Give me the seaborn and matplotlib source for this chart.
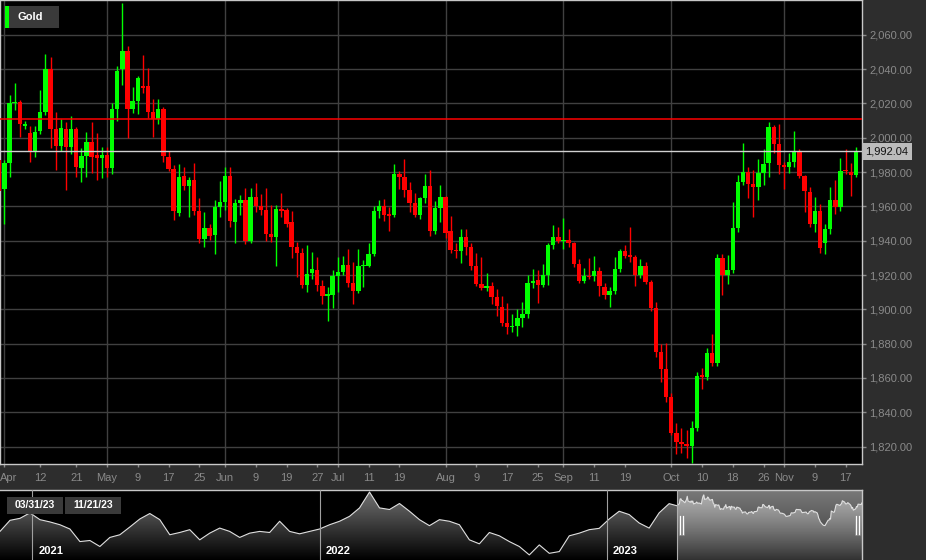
import numpy as np
import pandas as pd
import matplotlib
matplotlib.use('Agg')
import matplotlib.pyplot as plt
import matplotlib.dates as mdates
import matplotlib.transforms as mtransforms
from matplotlib.colors import LinearSegmentedColormap
from matplotlib.patches import Rectangle
import seaborn as sns

sns.set_theme(style='dark')
plt.rcParams['font.family'] = ['Liberation Sans', 'DejaVu Sans']

# 日线 OHLC 数据 (2023-03-31 ~ 2023-11-21, 工作日)
start_date = '2023-03-31'
end_date = '2023-11-21'

opens = [1987, 1970, 1985, 2020, 2021, 2007, 2002.7, 1991.5, 2004, 2015,
         2040, 2005, 1995.3, 2005, 1994.8, 2005, 1982.5, 1989.3, 1997.3, 1990,
         1988, 1990, 1982.5, 2016.7, 2040, 2050.5, 2016.7, 2021.4, 2030, 2030,
         2015.2, 2010.7, 2016.5, 1989, 1981.8, 1956.4, 1977.7, 1971.9, 1975.4, 1957.3,
         1940.8, 1947.2, 1943.3, 1959.5, 1962.7, 1977.7, 1951.1, 1961.8, 1963.7, 1940,
         1965.6, 1960.2, 1957.9, 1943.7, 1942, 1958.3, 1957.9, 1950.7, 1936.2, 1932.7,
         1914.2, 1921, 1923, 1913.6, 1908, 1908.4, 1919.6, 1921.6, 1925.9, 1915.2,
         1910.9, 1925.3, 1925.3, 1932.3, 1957.3, 1960.2, 1955.4, 1955, 1978.9, 1977,
         1969.5, 1962.1, 1955, 1965, 1972, 1945.8, 1959.2, 1965.3, 1945.7, 1934.6,
         1934.2, 1942.3, 1936.5, 1925.3, 1914.6, 1912.6, 1913.6, 1907.4, 1901.6, 1891.9,
         1889.6, 1890, 1894.8, 1897.3, 1915.6, 1917, 1914.2, 1920, 1937.5, 1942.3,
         1939.8, 1940.4, 1938.5, 1926.3, 1916.7, 1919.6, 1919.4, 1922.3, 1913.2, 1908.4,
         1910.7, 1923.3, 1934, 1931.7, 1930.7, 1920, 1925.3, 1916.1, 1900.6, 1875.3,
         1865.1, 1848.8, 1828, 1822.9, 1821.6, 1820.4, 1830.7, 1861.4, 1860.8, 1874.4,
         1869, 1929.7, 1920, 1922.9, 1947.6, 1974.4, 1980.2, 1973, 1971.1, 1979.6,
         1985, 2006.4, 1996.3, 1984.1, 1983.1, 1986, 1992.4, 1977.7, 1968.6, 1949.8,
         1957.3, 1938.5, 1946.6, 1963.7, 1959.8, 1981.2, 1980.2, 1978.3]

highs = [1990, 1987, 2025, 2032, 2022, 2010, 2006.8, 2007, 2028, 2049,
         2047, 2015, 2011, 2009, 2012.6, 2006, 1994, 2003.5, 2009.3, 2002.7,
         1994.8, 1994.5, 2020, 2042, 2078.6, 2053.4, 2029.4, 2036, 2048.2, 2040.4,
         2022.4, 2022.4, 2018, 1992, 1984, 1984.7, 1982.8, 1977, 1985, 1964.7,
         1956.9, 1950, 1963.7, 1974.8, 1983, 1983, 1964, 1966.6, 1970.5, 1970.5,
         1973.4, 1967, 1970.5, 1960.8, 1960.8, 1968, 1958.9, 1957, 1939.4, 1935.6,
         1937.5, 1933.3, 1930.7, 1917.1, 1913.2, 1923, 1930.7, 1931, 1935, 1927.8,
         1935, 1928.8, 1938.5, 1960.2, 1963.7, 1964.1, 1959.8, 1984.7, 1980.8, 1987.6,
         1974, 1967.6, 1965.6, 1978.9, 1981.2, 1963.3, 1972.4, 1966, 1954.6, 1938.8,
         1946.6, 1946.6, 1938.5, 1932.7, 1930.3, 1921, 1916.1, 1911.7, 1907.8, 1903.5,
         1897.3, 1900, 1904.5, 1920, 1923.3, 1922.9, 1926.3, 1938.8, 1949.2, 1947.8,
         1953, 1946.6, 1939, 1929.2, 1924, 1929.7, 1931, 1924.5, 1915.5, 1912.9,
         1930.3, 1935, 1937.5, 1947.8, 1931.5, 1929.2, 1927.8, 1917, 1904.5, 1879.8,
         1880.2, 1851, 1833.6, 1830.7, 1829.8, 1835.2, 1863.7, 1865.7, 1877.3, 1885.5,
         1932, 1932, 1931.7, 1962.7, 1978.3, 1997.1, 1982.8, 1981.2, 1987.4, 1993.2,
         2009.3, 2007.4, 2008, 1986, 1990.9, 2004.1, 1993.2, 1978, 1971.1, 1965.6,
         1961.4, 1949.8, 1971.1, 1975.4, 1988, 1993.2, 1985.1, 1994.4]

lows = [1965, 1950, 1977, 2016, 2000.6, 2005, 1986, 1989, 2002, 2013,
        1994, 1981, 1992, 1969.5, 1990.5, 1977, 1974.4, 1977.3, 1979.4, 1975.4,
        1976.5, 1977, 1979, 2010, 2030.7, 1999.7, 2014.2, 2014, 2026, 2011.3,
        2000.6, 2008, 1986, 1980.8, 1952, 1954.4, 1969.5, 1954, 1955, 1938.8,
        1936.5, 1940.4, 1932, 1953.6, 1958, 1948, 1938.5, 1955, 1938, 1938.5,
        1956.9, 1955, 1940, 1939.4, 1925.3, 1953.6, 1947.8, 1929.7, 1919, 1912.6,
        1910.3, 1917.5, 1910.9, 1903, 1893, 1900.6, 1910.3, 1920, 1913.2, 1903,
        1909.7, 1913.2, 1924.5, 1931, 1953, 1951.7, 1945.8, 1953.5, 1970, 1965.3,
        1956.9, 1953.6, 1952.5, 1962.1, 1942.8, 1944, 1951.1, 1941.4, 1933, 1929.7,
        1926.8, 1931.7, 1922.9, 1913.5, 1911.5, 1910.9, 1903, 1896, 1890, 1885.5,
        1887, 1884.7, 1889.6, 1895, 1912.2, 1903.9, 1912.8, 1914.2, 1935, 1938.5,
        1935, 1936.5, 1924.9, 1915.2, 1915.5, 1917.5, 1916.7, 1907.8, 1905.9, 1901.2,
        1909, 1921.5, 1929.7, 1927.8, 1913.6, 1918.5, 1914.5, 1899.2, 1872.4, 1857.9,
        1846.2, 1827, 1815.8, 1816.5, 1813.3, 1810.4, 1829, 1853.4, 1859, 1867,
        1867, 1908.4, 1914.8, 1921, 1945.2, 1972.4, 1964.7, 1953.6, 1963.7, 1972.4,
        1976.9, 1991.3, 1978.9, 1970, 1979.3, 1983.1, 1976.5, 1956.9, 1947.8, 1945.2,
        1933, 1932, 1943.7, 1955.4, 1957, 1978.9, 1966, 1977]

closes = [1969, 1985, 2020, 2021, 2008, 2008, 1991.8, 2003.5, 2015, 2040,
          2005, 1995.3, 2005.5, 1994.8, 2005, 1982.8, 1989.3, 1997.3, 1989, 1988,
          1990, 1982.5, 2016.7, 2038.8, 2050.5, 2016.7, 2021.4, 2034.6, 2028.8, 2015.2,
          2010.7, 2016.5, 1989.3, 1982, 1957.5, 1977.3, 1971.9, 1975.4, 1957.3, 1940.8,
          1947.2, 1942.9, 1959.5, 1962.7, 1977.7, 1951.7, 1961.8, 1963.7, 1940, 1965.6,
          1960.2, 1957.9, 1944, 1942.3, 1958.3, 1957.3, 1950, 1936.5, 1933, 1914.2,
          1920.6, 1923.3, 1914.2, 1907.8, 1909, 1919.4, 1921.6, 1925.9, 1915.6, 1910.9,
          1925.3, 1926, 1932.1, 1957.3, 1960.2, 1955, 1954.4, 1978.9, 1977.3, 1969.5,
          1962.1, 1955, 1964.7, 1972, 1945.8, 1959.2, 1965.3, 1944.7, 1934.6, 1934,
          1942.3, 1936.5, 1925.3, 1914.6, 1912.6, 1913.8, 1907.4, 1902, 1891.9, 1889.6,
          1890.4, 1894.8, 1897.3, 1915.2, 1916.7, 1914.2, 1920, 1937.5, 1942.3, 1940,
          1940.4, 1938.8, 1926.3, 1916.7, 1919.6, 1919, 1922.3, 1913.6, 1908.4, 1910.7,
          1923.3, 1934, 1931.3, 1930.7, 1920, 1925.3, 1916.1, 1900.6, 1875.3, 1865.1,
          1848.8, 1828, 1822.9, 1821.6, 1820.4, 1830.7, 1861.4, 1860.8, 1874.4, 1868.6,
          1929.7, 1920, 1922.9, 1947.6, 1974.4, 1980.2, 1973, 1971.1, 1979.6, 1984.7,
          2006.4, 1996.3, 1984.1, 1982.8, 1986, 1992.4, 1977.7, 1969.1, 1949.8, 1957.3,
          1936, 1946.6, 1963.7, 1959.8, 1980.8, 1980.4, 1978.3, 1992.04]

last_price = 1992.04
ref_level = 2010.9

# 概览条: 2020-11 ~ 2023-03 的走势 (等间隔读取)
nav_hist_start = '2020-11-21'
nav_hist_end = '2023-03-21'
nav_hist_values = [1777, 1860, 1875, 1916, 1865, 1848, 1827, 1795, 1701, 1709,
                   1664, 1732, 1752, 1810, 1870, 1911, 1865, 1752, 1769, 1790,
                   1714, 1764, 1802, 1777, 1732, 1764, 1777, 1769, 1853, 1777,
                   1759, 1777, 1795, 1827, 1853, 1890, 1953, 2072, 1953, 1941,
                   1986, 1928, 1865, 1820, 1865, 1853, 1827, 1714, 1684, 1769,
                   1744, 1701, 1664, 1601, 1676, 1613, 1626, 1744, 1764, 1790,
                   1800, 1870, 1928, 1903, 1840, 1802, 1916, 1985]
nav_start = '2020-11-21'
nav_end = '2023-11-21'
year_marks = ['2021', '2022', '2023']
range_labels = ['03/31/23', '11/21/23']

tick_dates = ['2023-04-03', '2023-04-12', '2023-04-21', '2023-05-01', '2023-05-09',
              '2023-05-17', '2023-05-25', '2023-06-01', '2023-06-09', '2023-06-19',
              '2023-06-27', '2023-07-03', '2023-07-11', '2023-07-19', '2023-08-01',
              '2023-08-09', '2023-08-17', '2023-08-25', '2023-09-01', '2023-09-11',
              '2023-09-19', '2023-10-02', '2023-10-10', '2023-10-18', '2023-10-26',
              '2023-11-01', '2023-11-09', '2023-11-17']
tick_labels = ['Apr', '12', '21', 'May', '9', '17', '25', 'Jun', '9', '19', '27',
               'Jul', '11', '19', 'Aug', '9', '17', '25', 'Sep', '11', '19',
               'Oct', '10', '18', '26', 'Nov', '9', '17']
month_names = ['Apr', 'May', 'Jun', 'Jul', 'Aug', 'Sep', 'Oct', 'Nov']

UP = '#00ff00'
DOWN = '#ff0000'
BG = '#2d2d2d'
GRID = '#404040'
TXT = '#8a8a8a'
EDGE = '#c8c8c8'

W, H = 926, 560
fig = plt.figure(figsize=(W / 100, H / 100), dpi=100)
fig.patch.set_facecolor(BG)


def fx(px):
    return px / W


def fy(py):
    return 1 - py / H


# 主图: K线
ax = fig.add_axes([0, fy(464), fx(862), 464 / H])
ax.set_facecolor('black')

dates = pd.bdate_range(start_date, end_date)
df = pd.DataFrame({'date': dates, 'open': opens, 'high': highs,
                   'low': lows, 'close': closes})
df['x'] = np.arange(len(df))
colors = np.where(df['close'] >= df['open'], UP, DOWN)

pos = {d: i for i, d in enumerate(dates.strftime('%Y-%m-%d'))}
tick_x = [pos[d] for d in tick_dates]

for v in range(1820, 2061, 20):
    ax.axhline(v, color=GRID, lw=1, zorder=0)
for tx, lab in zip(tick_x, tick_labels):
    if lab in month_names:
        ax.axvline(tx, color=GRID, lw=1, zorder=0)

ax.vlines(df['x'], df['low'], df['high'], colors=colors, lw=1, zorder=2)
body = (df['close'] - df['open']).abs().clip(lower=0.7)
ax.bar(df['x'], body, bottom=df[['open', 'close']].min(axis=1), width=0.85,
       color=colors, lw=0, zorder=3)

ax.axhline(ref_level, color='#ff0000', lw=1.1, zorder=4)
ax.axhline(last_price, color='#d0d0d0', lw=1, zorder=4)

ax.set_xlim(0.14, 168.2)
ax.set_ylim(1809.9, 2080.2)

ax.yaxis.tick_right()
yt = list(range(1820, 2061, 20))
ax.set_yticks(yt)
ax.set_yticklabels([f'{v:,.2f}' for v in yt])
ax.set_xticks(tick_x)
ax.set_xticklabels(tick_labels)
ax.tick_params(axis='y', colors=TXT, labelsize=8, length=3, width=1, pad=2,
               right=True, left=False)
ax.tick_params(axis='x', colors=TXT, labelsize=8, length=2.5, width=1, pad=4,
               bottom=True)
first = ax.get_xticklabels()[0]
first.set_ha('left')
first.set_transform(first.get_transform() +
                    mtransforms.ScaledTranslation(-4 / 100, 0, fig.dpi_scale_trans))
for s in ax.spines.values():
    s.set_color(EDGE)
    s.set_linewidth(1)

# 当前价格标签
trans = mtransforms.blended_transform_factory(ax.transAxes, ax.transData)
ax.text(1.004, last_price, f'{last_price:,.2f}', transform=trans, ha='left',
        va='center', fontsize=8, color='#111111', clip_on=False,
        bbox=dict(boxstyle='square,pad=0.3', facecolor='#bcbcbc', edgecolor='none'))

# 图例 "Gold"
fig.add_artist(Rectangle((fx(5), fy(28)), fx(54), 22 / H, transform=fig.transFigure,
                         facecolor='#3a3a3a', edgecolor='none'))
fig.add_artist(Rectangle((fx(5), fy(28)), fx(4), 22 / H, transform=fig.transFigure,
                         facecolor=UP, edgecolor='none'))
fig.text(fx(18), fy(17), 'Gold', color='white', fontsize=8, fontweight='bold',
         ha='left', va='center')

# 概览条
nav = fig.add_axes([0, 0, fx(862), 70 / H])
nav.set_facecolor('black')
nav_hist_dates = pd.date_range(nav_hist_start, nav_hist_end, periods=len(nav_hist_values))
nav_df = pd.DataFrame({'date': list(nav_hist_dates) + list(dates),
                       'value': nav_hist_values + closes})
x0 = mdates.date2num(pd.Timestamp(nav_start))
x1 = mdates.date2num(pd.Timestamp(nav_end))
sel0 = mdates.date2num(pd.Timestamp(start_date))
ylo, yhi = 1563, 2087

poly = nav.fill_between(mdates.date2num(nav_df['date']), nav_df['value'], ylo,
                        color='none', lw=0)
grad = np.linspace(0, 1, 256).reshape(-1, 1)
cm_fill = LinearSegmentedColormap.from_list('navfill', ['#000000', '#757575'])
im = nav.imshow(grad, extent=[x0, x1, ylo, yhi], origin='lower', aspect='auto',
                cmap=cm_fill, zorder=1)
im.set_clip_path(poly.get_paths()[0], transform=nav.transData)

ov = np.ones((256, 1, 4))
ov[:, 0, 3] = np.linspace(0.2, 0.48, 256)
nav.imshow(ov, extent=[sel0, x1, ylo, yhi], origin='lower', aspect='auto', zorder=2)

sns.lineplot(data=nav_df, x='date', y='value', ax=nav, color='#e0e0e0', lw=0.8,
             zorder=3, estimator=None)
nav.set_xlim(x0, x1)
nav.set_ylim(ylo, yhi)
nav.set_xlabel('')
nav.set_ylabel('')
nav.set_xticks([])
nav.set_yticks([])
for k, s in nav.spines.items():
    s.set_visible(k in ('top', 'right'))
    s.set_color(EDGE)
    s.set_linewidth(1)

ntrans = mtransforms.blended_transform_factory(nav.transData, nav.transAxes)
for yr in year_marks:
    t = mdates.date2num(pd.Timestamp(f'{yr}-01-01'))
    nav.axvline(t, color='#a0a0a0', lw=0.8, zorder=4)
    nav.text(t + 7.5, 0.13, yr, transform=ntrans, color='white', fontsize=8,
             fontweight='bold', ha='left', va='center', zorder=5)
nav.axvline(sel0, color='#b0b0b0', lw=0.8, zorder=4)

# 区间日期框
for lab, (bx, bw) in zip(range_labels, [(7, 56), (65, 56)]):
    fig.add_artist(Rectangle((fx(bx), fy(514)), fx(bw), 17 / H, transform=fig.transFigure,
                             facecolor='#3a3a3a', edgecolor='none', zorder=6))
    fig.text(fx(bx + bw / 2), fy(505.5), lab, color='white', fontsize=7.5,
             fontweight='bold', ha='center', va='center', zorder=7)

# 选区拖动柄
for hx in (679, 855):
    for dx in (0, 3):
        fig.add_artist(Rectangle((fx(hx + dx), fy(535)), fx(1.6), 20 / H,
                                 transform=fig.transFigure, facecolor='white',
                                 edgecolor='#777777', lw=0.4, zorder=6))

fig.savefig('out.png', dpi=100, facecolor=fig.get_facecolor())
